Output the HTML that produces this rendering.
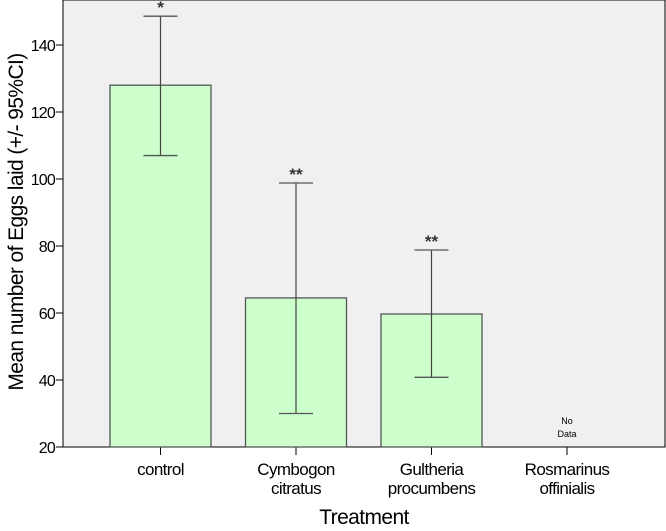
<!DOCTYPE html>
<html><head><meta charset="utf-8"><style>
body{margin:0;background:#fff;}
svg text{font-family:"Liberation Sans",sans-serif;}
</style></head><body>
<svg id="c" width="666" height="526" xmlns="http://www.w3.org/2000/svg">
<rect x="63" y="0" width="602" height="447" fill="#f0f0f0" stroke="#000" stroke-width="1"/>
<g id="g"></g>
<text transform="translate(23,222) rotate(-90)" text-anchor="middle" font-size="21" letter-spacing="-0.6" fill="#000">Mean number of Eggs laid  (+/- 95%CI)</text>
<text x="364" y="524" text-anchor="middle" font-size="21" letter-spacing="-0.6" fill="#000">Treatment</text>
</svg>
<script>
const categories=[["control"],["Cymbogon","citratus"],["Gultheria","procumbens"],["Rosmarinus","offinialis"]];
const means=[128,64.5,59.7,null];
const lower=[107,30,40.8,null];
const upper=[148.6,98.8,78.8,null];
const marks=["*","**","**",""];
const yTicks=[20,40,60,80,100,120,140];
const ns="http://www.w3.org/2000/svg";
const g=document.getElementById('g');
function y(v){return 447-(v-20)*(447-45)/120;}
function xc(i){return 160.5+i*135.5;}
function mk(t,a){const e=document.createElementNS(ns,t);for(const k in a)e.setAttribute(k,a[k]);g.appendChild(e);return e;}
yTicks.forEach(v=>{
  const l=mk('line',{x1:56,x2:63,y1:y(v),y2:y(v),stroke:'#000'});
  
  
  const t=mk('text',{x:55,y:y(v)+6,'text-anchor':'end','font-size':16,'letter-spacing':-0.8});
  t.textContent=v;
  
  
});
categories.forEach((c,i)=>{
  const x=xc(i);
  const tk=mk('line',{x1:x,x2:x,y1:447,y2:455,stroke:'#000'});
  
  
  c.forEach((s,j)=>{
    const t=mk('text',{x:x,y:475+j*19,'text-anchor':'middle','font-size':17,'letter-spacing':-0.6});
    t.textContent=s;
    
    
  });
  if(means[i]==null){
    const t1=mk('text',{x:x,y:424,'text-anchor':'middle','font-size':9});t1.textContent='No';
    
    
    const t2=mk('text',{x:x,y:437,'text-anchor':'middle','font-size':9});t2.textContent='Data';
    
    
    return;
  }
  const b=mk('rect',{x:x-50.5,y:y(means[i]),width:101,height:447-y(means[i]),fill:'#ccffcc',stroke:'#555','stroke-width':1.3});
  
  
  const e=mk('line',{x1:x,x2:x,y1:y(upper[i]),y2:y(lower[i]),stroke:'#444','stroke-width':1.2});
  
  
  [upper[i],lower[i]].forEach(v=>{
    const cp=mk('line',{x1:x-17,x2:x+17,y1:y(v),y2:y(v),stroke:'#555','stroke-width':1.3});
    
    
  });
  const s=mk('text',{x:x,y:y(upper[i])-3,'text-anchor':'middle','font-size':17,'font-weight':'bold',fill:'#333'});
  s.textContent=marks[i];
  
  
});
</script>
</body></html>
